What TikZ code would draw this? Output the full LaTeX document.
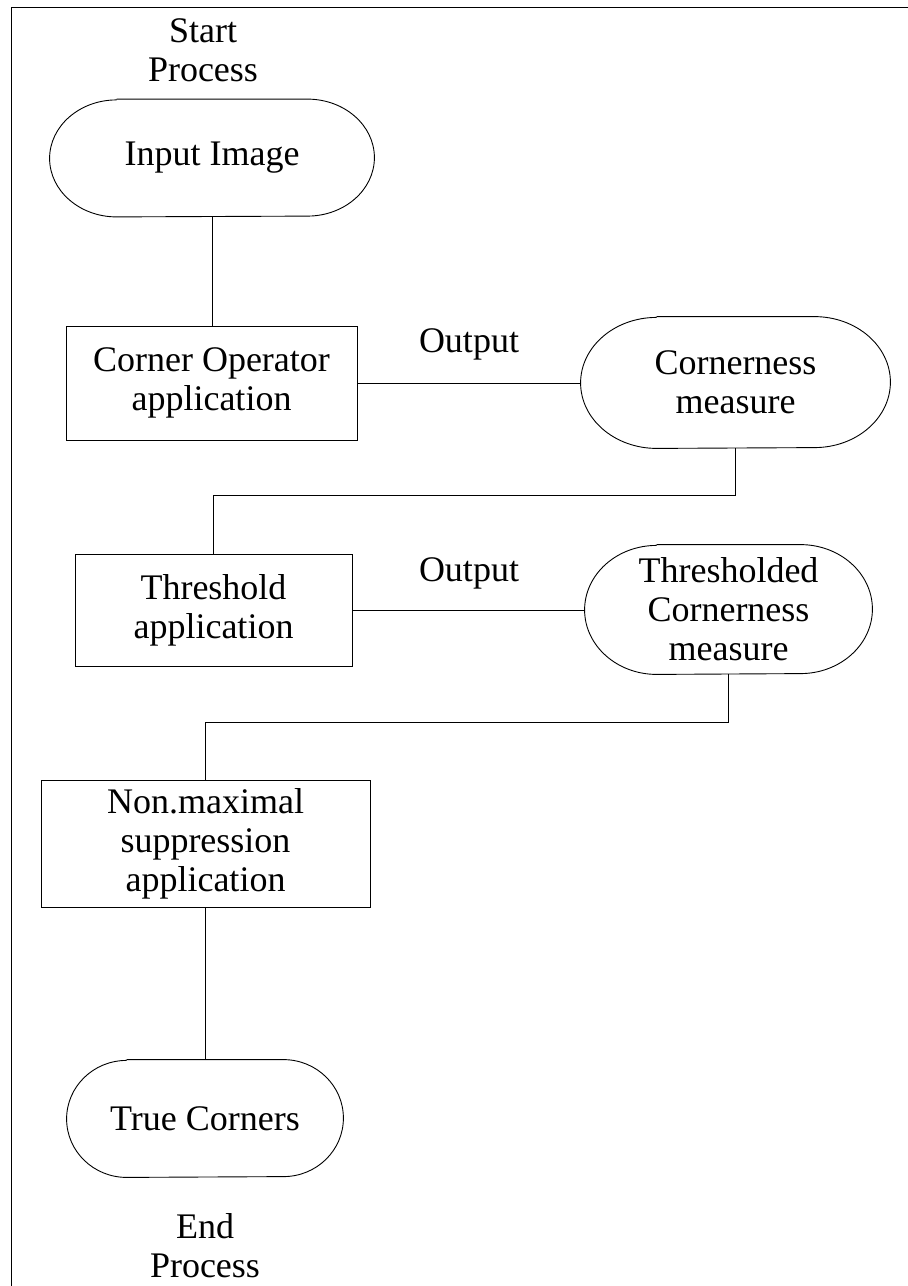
\documentclass[tikz,border=0pt]{standalone}
\usepackage{fontspec}
\setmainfont{Liberation Serif}
\usetikzlibrary{calc}
\tikzset{
  txt/.style={font=\fontsize{18}{19.5}\selectfont, align=center, inner sep=0pt},
  boxnode/.style={txt, draw, line width=0.5pt, rectangle},
  stadnode/.style={txt, draw=none, rectangle},
  conn/.style={line width=0.5pt},
  outline/.style={line width=0.45pt}
}
% #1 name, #2 x radius, #3 half height
\newcommand\drawstad[3]{%
  \draw[outline] ([xshift=#2]#1.north west) -- ([xshift=-#2]#1.north east)
    arc[start angle=90,end angle=-90,x radius=#2,y radius=#3]
    -- ([xshift=#2]#1.south west)
    arc[start angle=270,end angle=90,x radius=#2,y radius=#3];}
\begin{document}
\begin{tikzpicture}[x=0.5pt,y=0.5pt]
\useasboundingbox (0,0) rectangle (908,-1286);
% frame
\draw[conn] (11,-1286) -- (11,-7.5) -- (908,-7.5);

\node[txt] (start) at (203,-50) {Start\\Process};

\node[stadnode, minimum width=162pt, minimum height=58.5pt] (in) at (212,-158) {Input Image};
\drawstad{in}{33.5pt}{29.25pt}

\node[boxnode, minimum width=145.5pt, minimum height=57pt] (co) at (211.5,-383) {Corner Operator\\application};

\node[txt] (out1) at (469,-344) {Output};

\node[stadnode, minimum width=154.5pt, minimum height=65.5pt] (cm) at (735.5,-382.5) {Cornerness\\measure};
\drawstad{cm}{38pt}{32.75pt}

\node[boxnode, minimum width=138.5pt, minimum height=56pt] (th) at (213.5,-610) {Threshold\\application};

\node[txt] (out2) at (469,-573) {Output};

\node[stadnode, minimum width=143.5pt, minimum height=64.5pt] (tcm) at (728.5,-609.5) {Thresholded\\Cornerness\\measure};
\drawstad{tcm}{36pt}{32.25pt}

\node[boxnode, minimum width=164.5pt, minimum height=63.5pt] (nm) at (205.5,-843.5) {Non.maximal\\suppression\\application};

\node[stadnode, minimum width=138pt, minimum height=58.5pt] (tc) at (205,-1118.5) {True Corners};
\drawstad{tc}{30pt}{29.25pt}

\node[txt] (end) at (205,-1246) {End\\Process};

% connectors
\draw[conn] (in.south) -- (in.south |- co.north);
\draw[conn] (co.east) -- (co.east -| cm.west);
\draw[conn] (cm.south) -- ($(cm.south |- th.north)+(0,58)$) -| (th.north);
\draw[conn] (th.east) -- (th.east -| tcm.west);
\draw[conn] (tcm.south) -- ($(tcm.south |- nm.north)+(0,57)$) -| (nm.north);
\draw[conn] (nm.south) -- (nm.south |- tc.north);
\end{tikzpicture}
\end{document}
